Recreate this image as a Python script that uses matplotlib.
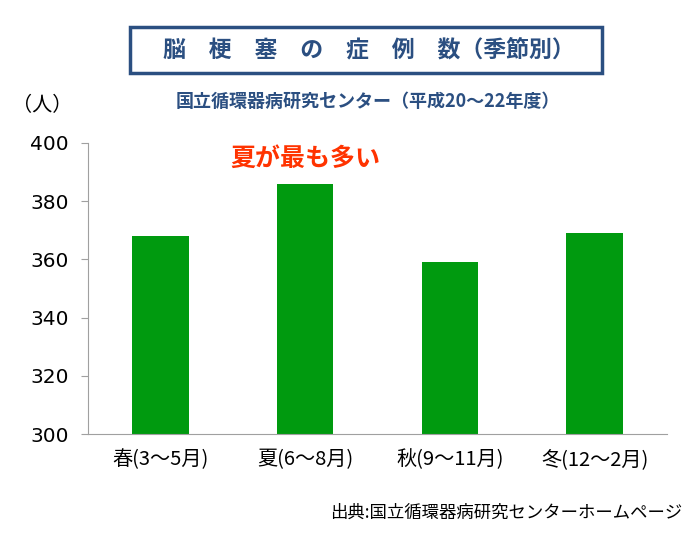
import matplotlib
matplotlib.use("Agg")
import matplotlib.pyplot as plt
from matplotlib.patches import Rectangle

plt.rcParams['font.family'] = ['Noto Sans CJK JP', 'DejaVu Sans']

# データ
seasons = ["春(3〜5月)", "夏(6〜8月)", "秋(9〜11月)", "冬(12〜2月)"]
counts = [368, 386, 359, 369]
y_ticks = [300, 320, 340, 360, 380, 400]

navy = "#2B4F81"
green = "#009A0F"

fig = plt.figure(figsize=(7.0, 5.44), dpi=100)
ax = fig.add_axes([88 / 700, 1 - 434 / 544, (667 - 88) / 700, (434 - 143) / 544])

x = range(len(seasons))
ax.bar(x, counts, width=0.39, color=green, zorder=2)

ax.set_ylim(300, 400)
ax.set_xlim(-0.5, len(seasons) - 0.5)
ax.set_yticks(y_ticks)
ax.set_yticklabels([str(v) for v in y_ticks], fontsize=14.5, family='DejaVu Sans')
ax.set_xticks(list(x))
ax.set_xticklabels(seasons, fontsize=14.5)
ax.tick_params(axis='y', length=5, color="#A0A0A0", pad=9)
ax.tick_params(axis='x', length=0, pad=11)
for side in ["top", "right"]:
    ax.spines[side].set_visible(False)
for side in ["left", "bottom"]:
    ax.spines[side].set_color("#A0A0A0")

# 注記
ax.text(1, 390.3, "夏が最も多い", color="#FF3300", fontsize=18, fontweight='bold',
        ha='center', va='bottom')

# タイトル枠
fig.patches.append(Rectangle((130 / 700, 1 - 73 / 544), (602 - 130) / 700, 46 / 544,
                             transform=fig.transFigure, fill=False,
                             edgecolor=navy, linewidth=2.5))
fig.text(369 / 700, 1 - 50 / 544, "脳\u3000梗\u3000塞\u3000の\u3000症\u3000例\u3000数（季節別）",
         color=navy, fontsize=16.5, fontweight='bold', ha='center', va='center')
fig.text(368 / 700, 1 - 101 / 544, "国立循環器病研究センター（平成20〜22年度）",
         color=navy, fontsize=13, fontweight='bold', ha='center', va='center')
fig.text(42 / 700, 1 - 106 / 544, "（人）", fontsize=14.5, ha='center', va='center')
fig.text(682 / 700, 1 - 513 / 544, "出典:国立循環器病研究センターホームページ",
         fontsize=12.5, ha='right', va='center')

fig.savefig("out.png", dpi=100)
